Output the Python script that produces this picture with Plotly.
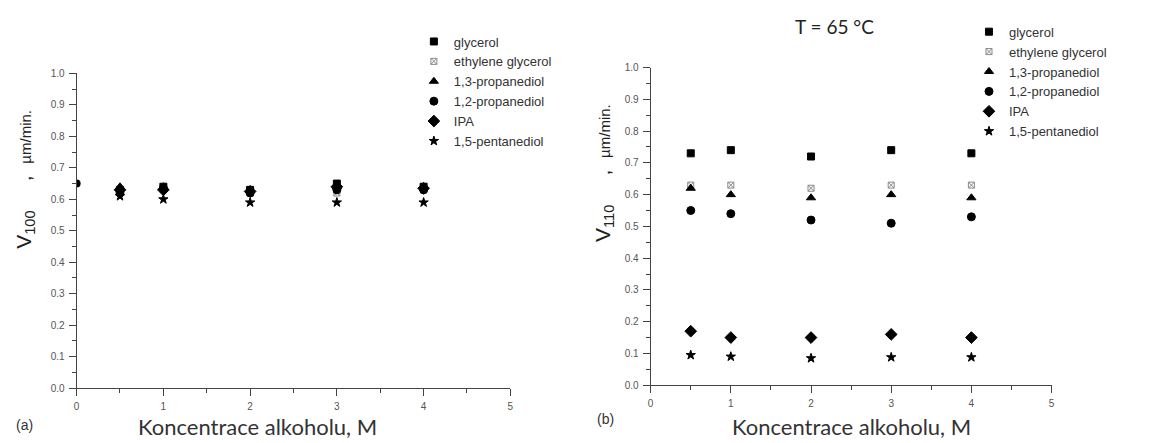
import plotly.graph_objects as go

series_names = ["glycerol", "ethylene glycerol", "1,3-propanediol", "1,2-propanediol", "IPA", "1,5-pentanediol"]
marker_symbols = ["square", "square-x-open", "triangle-up", "circle", "diamond", "star"]
marker_colors = ["black", "#888888", "black", "black", "black", "black"]
marker_sizes = [7, 6, 8, 8, 9, 7]

# Panel (a): V100
conc_a = [0.5, 1, 2, 3, 4]
a_glycerol = [0.63, 0.64, 0.63, 0.65, 0.64]
a_ethylene = [0.63, 0.63, 0.62, 0.62, 0.63]
a_13prop = [0.64, 0.64, 0.63, 0.64, 0.64]
a_12prop = [0.62, 0.635, 0.62, 0.63, 0.63]
a_ipa = [0.63, 0.63, 0.625, 0.64, 0.635]
a_15pent = [0.61, 0.60, 0.59, 0.59, 0.59]
conc_a0 = [0]
a0_value = [0.65]

# Panel (b): V110, T = 65 °C
conc_b = [0.5, 1, 2, 3, 4]
b_glycerol = [0.73, 0.74, 0.72, 0.74, 0.73]
b_ethylene = [0.63, 0.63, 0.62, 0.63, 0.63]
b_13prop = [0.62, 0.60, 0.59, 0.60, 0.59]
b_12prop = [0.55, 0.54, 0.52, 0.51, 0.53]
b_ipa = [0.17, 0.15, 0.15, 0.16, 0.15]
b_15pent = [0.095, 0.09, 0.085, 0.088, 0.088]

ticks_y = [0.0, 0.1, 0.2, 0.3, 0.4, 0.5, 0.6, 0.7, 0.8, 0.9, 1.0]
ticks_x = [0, 1, 2, 3, 4, 5]

a_data = [a_glycerol, a_ethylene, a_13prop, a_12prop, a_ipa, a_15pent]
b_data = [b_glycerol, b_ethylene, b_13prop, b_12prop, b_ipa, b_15pent]

fig = go.Figure()

fig.add_trace(go.Scatter(x=conc_a0, y=a0_value, mode="markers", showlegend=False,
                         marker=dict(symbol="circle", size=8, color="black"),
                         xaxis="x", yaxis="y"))

for i, name in enumerate(series_names):
    fig.add_trace(go.Scatter(
        x=conc_a, y=a_data[i], mode="markers", name=name, legend="legend",
        marker=dict(symbol=marker_symbols[i], size=marker_sizes[i], color=marker_colors[i],
                    line=dict(width=1, color=marker_colors[i])),
        xaxis="x", yaxis="y"))

for i, name in enumerate(series_names):
    fig.add_trace(go.Scatter(
        x=conc_b, y=b_data[i], mode="markers", name=name, legend="legend2",
        marker=dict(symbol=marker_symbols[i], size=marker_sizes[i], color=marker_colors[i],
                    line=dict(width=1, color=marker_colors[i])),
        xaxis="x2", yaxis="y2"))

W, H = 1165, 443

def px_x(p):
    return p / W

def px_y(p):
    return 1 - p / H

TICKFONT = dict(family="Arial", size=10, color="#555")

def make_axis(domain, ticks, anchor, fmt=None):
    step = ticks[1] - ticks[0]
    d = dict(domain=domain, range=[ticks[0], ticks[-1]], tickmode="linear",
             tick0=ticks[0], dtick=step,
             anchor=anchor, showline=True, linecolor="#444", linewidth=1, mirror=False,
             ticks="outside", ticklen=7, tickcolor="#444", showgrid=False, zeroline=False,
             tickfont=TICKFONT, ticklabelstandoff=2,
             minor=dict(ticks="outside", ticklen=4, tickcolor="#444", tickwidth=1,
                        tickmode="linear", tick0=ticks[0], dtick=step / 2,
                        showgrid=False))
    if fmt:
        d["tickformat"] = fmt
    return d

fig.update_layout(
    width=W, height=H,
    margin=dict(l=0, r=0, t=0, b=0),
    paper_bgcolor="white", plot_bgcolor="white",
    xaxis=make_axis([px_x(74), px_x(510)], ticks_x, "y"),
    yaxis=make_axis([px_y(392), px_y(70)], ticks_y, "x", ".1f"),
    xaxis2=make_axis([px_x(651), px_x(1054)], ticks_x, "y2"),
    yaxis2=make_axis([px_y(389), px_y(64)], ticks_y, "x2", ".1f"),
    legend=dict(x=px_x(413), y=px_y(22), xanchor="left", yanchor="top",
                bgcolor="rgba(0,0,0,0)", font=dict(family="Arial", size=13, color="#333"),
                itemwidth=30, tracegroupgap=0),
    legend2=dict(x=px_x(971), y=px_y(12), xanchor="left", yanchor="top",
                 bgcolor="rgba(0,0,0,0)", font=dict(family="Arial", size=13, color="#333"),
                 itemwidth=30, tracegroupgap=0),
    showlegend=True,
)

ytitle_a = "V<sub>100</sub>     ,  <span style='font-size:15px'>µm/min.</span>"
ytitle_b = "V<sub>110</sub>     ,  <span style='font-size:15px'>µm/min.</span>"
xtitle = "Koncentrace alkoholu, M"
title_b = "T = 65 °C"

annos = [
    dict(text=ytitle_a, x=px_x(22), y=px_y(178), textangle=-90),
    dict(text=ytitle_b, x=px_x(604), y=px_y(172), textangle=-90),
]
for a in annos:
    fig.add_annotation(xref="paper", yref="paper", xanchor="center", yanchor="middle",
                       showarrow=False, font=dict(family="Arial", size=21, color="#222"), **a)

fig.add_annotation(text=xtitle, xref="paper", yref="paper", x=px_x(256), y=px_y(431),
                   xanchor="center", yanchor="middle", showarrow=False,
                   font=dict(family="Lato", size=22, color="#333"))
fig.add_annotation(text=xtitle, xref="paper", yref="paper", x=px_x(853), y=px_y(431),
                   xanchor="center", yanchor="middle", showarrow=False,
                   font=dict(family="Lato", size=22, color="#333"))
fig.add_annotation(text=title_b, xref="paper", yref="paper", x=px_x(836), y=px_y(22),
                   xanchor="center", yanchor="middle", showarrow=False,
                   font=dict(family="Lato", size=19, color="#222"))
fig.add_annotation(text="(a)", xref="paper", yref="paper", x=px_x(22), y=px_y(430),
                   xanchor="center", yanchor="middle", showarrow=False,
                   font=dict(family="Arial", size=14, color="#333"))
fig.add_annotation(text="(b)", xref="paper", yref="paper", x=px_x(606), y=px_y(424),
                   xanchor="center", yanchor="middle", showarrow=False,
                   font=dict(family="Arial", size=14, color="#333"))

fig.write_html("out.html")
